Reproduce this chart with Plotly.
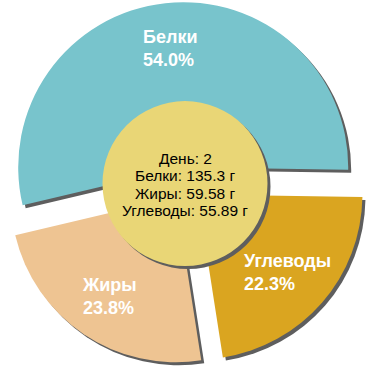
import math
import plotly.graph_objects as go

# ---- data ----
day = 2
nutrients = ["Углеводы", "Жиры", "Белки"]
grams = [55.89, 59.58, 135.3]
slice_colors = ["#DAA520", "#EEC492", "#78C4CC"]
center_lines = ["День: 2", "Белки: 135.3 г", "Жиры: 59.58 г", "Углеводы: 55.89 г"]

# ---- geometry (pixels) ----
W = H = 370
CX, CY = 185.0, 183.6
BOX_HALF = 181.5
PULL = 0.1
R = BOX_HALF / (1 + PULL)
HOLE = 0.5
SH = 3.0
ROT = 90.9  # degrees clockwise from 12 o'clock
FONT = "Liberation Sans, Arial, sans-serif"
SHADOW = "#5E5E5E"


def dom(cx, cy, half):
    return dict(x=[max(0, (cx - half) / W), min(1, (cx + half) / W)],
                y=[max(0, 1 - (cy + half) / H), min(1, 1 - (cy - half) / H)])


fig = go.Figure()
# slice shadow
fig.add_trace(go.Pie(labels=nutrients, values=grams, sort=False, direction="clockwise",
                     rotation=ROT, pull=[PULL] * 3, domain=dom(CX + SH, CY + SH, BOX_HALF),
                     marker=dict(colors=[SHADOW] * 3, line=dict(width=0)),
                     textinfo="none", hoverinfo="skip", showlegend=False))
# slices
fig.add_trace(go.Pie(labels=nutrients, values=grams, sort=False, direction="clockwise",
                     rotation=ROT, pull=[PULL] * 3, domain=dom(CX, CY, BOX_HALF),
                     marker=dict(colors=slice_colors, line=dict(width=0)),
                     textinfo="none", hoverinfo="label+percent", showlegend=False))
# center disc shadow + disc
fig.add_trace(go.Pie(values=[1], domain=dom(CX + SH, CY + SH, R * HOLE),
                     marker=dict(colors=[SHADOW], line=dict(width=0)),
                     textinfo="none", hoverinfo="skip", showlegend=False))
fig.add_trace(go.Pie(values=[1], domain=dom(CX, CY, R * HOLE),
                     marker=dict(colors=["#E9D676"], line=dict(width=0)),
                     textinfo="none", hoverinfo="skip", showlegend=False))

annotations = []
# slice labels, placed on each slice's bisector
total = sum(grams)
cum = 0.0
LABEL_R = PULL * R + 0.725 * R
for name, g in zip(nutrients, grams):
    frac = g / total
    mid_cw = ROT + (cum + frac / 2) * 360
    cum += frac
    th = math.radians(90 - mid_cw)
    px = CX + LABEL_R * math.cos(th)
    py = CY - LABEL_R * math.sin(th)
    annotations.append(dict(
        x=px / W, y=1 - py / H,
        xref="paper", yref="paper", xanchor="center", yanchor="middle", align="left",
        text=f"{name}<br>{frac * 100:.1f}%", showarrow=False,
        font=dict(family=FONT, size=18, color="white", weight="bold")))

# center text
CGAP = 17.4
n = len(center_lines)
for i, txt in enumerate(center_lines):
    annotations.append(dict(
        x=CX / W, y=1 - (CY + 1 + (i - (n - 1) / 2) * CGAP) / H,
        xref="paper", yref="paper", xanchor="center", yanchor="middle",
        text=txt, showarrow=False,
        font=dict(family=FONT, size=15.5, color="black")))

fig.update_layout(width=W, height=H, margin=dict(l=0, r=0, t=0, b=0),
                  paper_bgcolor="white", plot_bgcolor="white",
                  annotations=annotations, showlegend=False)

fig.write_html("out.html", config={"displayModeBar": False},
               post_script="document.body.style.margin='0px';")
